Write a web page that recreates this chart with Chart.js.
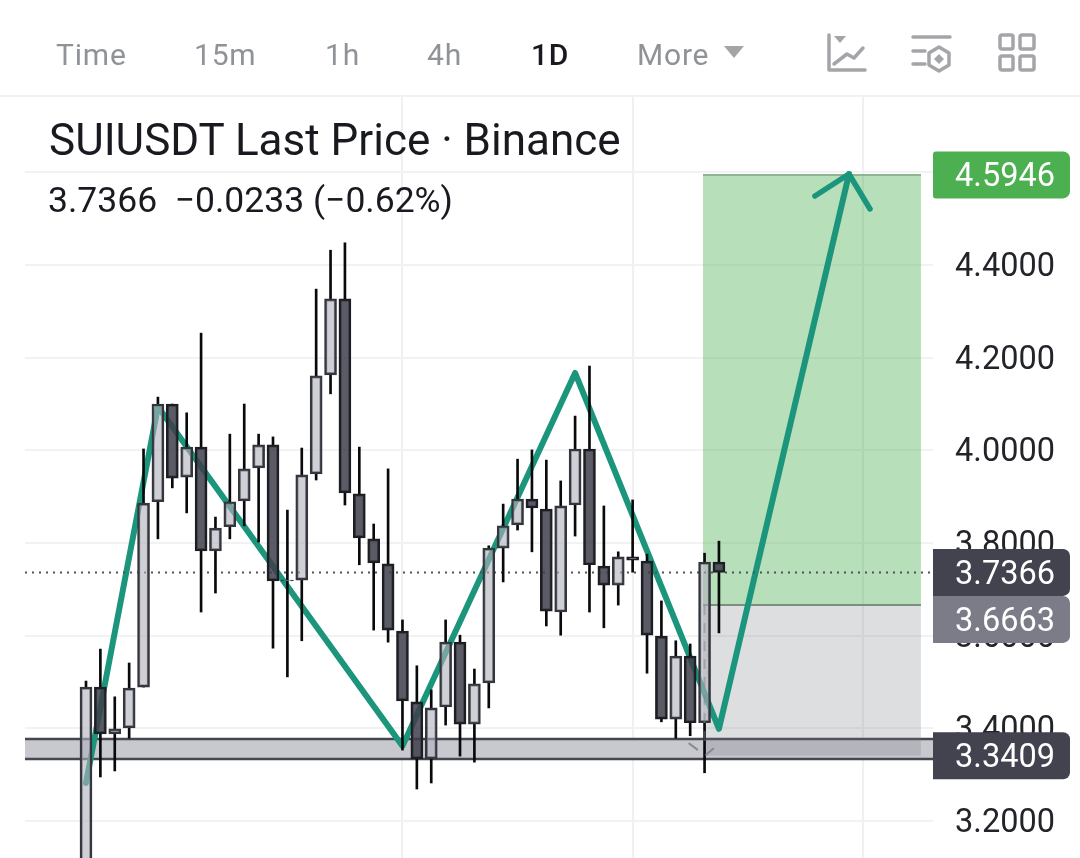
<!DOCTYPE html>
<html>
<head>
<meta charset="utf-8">
<title>SUIUSDT</title>
<script src="https://cdn.jsdelivr.net/npm/chart.js@4"></script>
<style>
    html, body { margin: 0; padding: 0; background: #fff; overflow: hidden; }
    #wrap { position: relative; width: 1080px; height: 858px; font-family: Roboto, sans-serif; }
    #data-chart { position: absolute; left: 0; top: 0; }
    .tab { position: absolute; top: 37px; font-size: 30px; line-height: 36px; color: #8f9296; letter-spacing: 0.8px; }
    .tab.on { color: #181a20; font-weight: 500; }
    #bar-line { position: absolute; left: 0; top: 95px; width: 1080px; height: 2px; background: #f2f2f3; }
    #title { position: absolute; left: 49px; top: 115px; font-size: 44px; line-height: 50px; color: #181a20; white-space: nowrap; }
    #quote { position: absolute; left: 48px; top: 180px; font-size: 35.5px; line-height: 40px; color: #181a20; white-space: pre; }
    svg.icon { position: absolute; fill: none; stroke: #a3a5a8; stroke-width: 3.5; stroke-linecap: round; stroke-linejoin: round; }
</style>
</head>
<body>
<div id="wrap">
    <canvas id="data-chart" width="1080" height="858"></canvas>
    <div class="tab" style="left:56px">Time</div>
    <div class="tab" style="left:194px">15m</div>
    <div class="tab" style="left:325px">1h</div>
    <div class="tab" style="left:427px">4h</div>
    <div class="tab on" style="left:531px">1D</div>
    <div class="tab" style="left:637px">More</div>
    <svg class="icon" style="left:722px;top:44px" width="24" height="16"><path d="M2 2h20L12 14z" fill="#a3a5a8" stroke="none"/></svg>
    <svg class="icon" style="left:826px;top:32px" width="42" height="42"><path d="M3 3V38H39M8 32L21 22L28 26L37 16"/><path d="M8 4h12L14 11z" fill="#a3a5a8" stroke="none"/></svg>
    <svg class="icon" style="left:910px;top:32px" width="44" height="42"><path d="M3 5H40M3 19H15M3 32H15M29 15L39 21V33L29 39L19 33V21z"/><path d="M29 22L34 27L29 32L24 27z" fill="#a3a5a8" stroke="none"/></svg>
    <svg class="icon" style="left:998px;top:33px" width="40" height="40"><rect x="2" y="2" width="13" height="14" rx="2"/><rect x="22" y="2" width="14" height="14" rx="2"/><rect x="2" y="23" width="13" height="14" rx="2"/><rect x="22" y="23" width="14" height="14" rx="2"/></svg>
    <div id="bar-line"></div>
    <div id="title">SUIUSDT Last Price · Binance</div>
    <div id="quote">3.7366  −0.0233 (−0.62%)</div>
</div>
<script>
// daily candles
var opens = [3.02, 3.489, 3.388, 3.401, 3.489, 3.889, 4.100, 3.942, 4.007, 3.783, 3.835, 3.891, 3.962, 4.012, 3.718, 3.720, 3.949, 4.163, 4.327, 3.906, 3.809, 3.755, 3.610, 3.457, 3.334, 3.446, 3.586, 3.409, 3.498, 3.789, 3.839, 3.895, 3.873, 3.651, 3.882, 4.003, 3.750, 3.709, 3.770, 3.761, 3.599, 3.420, 3.556, 3.412, 3.759];
var closes = [3.489, 3.388, 3.399, 3.487, 3.886, 4.100, 3.940, 4.007, 3.783, 3.832, 3.889, 3.960, 4.012, 3.718, 3.720, 3.947, 4.161, 4.327, 3.908, 3.811, 3.757, 3.612, 3.459, 3.334, 3.444, 3.586, 3.409, 3.496, 3.789, 3.837, 3.895, 3.876, 3.653, 3.880, 4.003, 3.753, 3.709, 3.770, 3.763, 3.601, 3.420, 3.556, 3.412, 3.759, 3.7366];
var highs = [3.502, 3.571, 3.468, 3.541, 4.003, 4.115, 4.100, 4.081, 4.253, 3.856, 4.035, 4.100, 4.035, 4.029, 3.871, 4.005, 4.348, 4.432, 4.448, 4.007, 3.841, 3.960, 3.634, 3.535, 3.483, 3.634, 3.601, 3.528, 3.794, 3.884, 3.981, 4.001, 3.979, 3.934, 4.074, 4.182, 3.880, 3.781, 3.893, 3.776, 3.675, 3.589, 3.582, 3.778, 3.804];
var lows = [2.98, 3.295, 3.308, 3.379, 3.489, 3.809, 3.919, 3.865, 3.651, 3.692, 3.809, 3.837, 3.802, 3.573, 3.511, 3.589, 3.936, 4.122, 3.882, 3.753, 3.612, 3.586, 3.353, 3.269, 3.282, 3.407, 3.340, 3.327, 3.444, 3.716, 3.828, 3.781, 3.621, 3.601, 3.815, 3.651, 3.617, 3.666, 3.737, 3.519, 3.414, 3.379, 3.384, 3.304, 3.606];

// price scale and grid
var yTickValues = [3.2, 3.4, 3.6, 3.8, 4.0, 4.2, 4.4, 4.6];
var xTickValues = [22, 38, 54];
var xRange = [-4.24, 58.88];
var yRange = [3.1201, 4.7627];

// drawn pattern and arrow head
var zigzagX = [0, 5, 22, 34, 44, 53.04];
var zigzagY = [3.282, 4.094, 3.362, 4.167, 3.399, 4.5965];
var arrowX = [50.67, 53.04, 54.5];
var arrowY = [4.549, 4.5965, 4.521];

// position tool and support band
var lastPrice = 3.7366;
var targetPrice = 4.5946;
var entryPrice = 3.6663;
var stopPrice = 3.3409;
var toolX = [42.89, 58.04];
var bandPrices = [3.3338, 3.377];
var toolDashX = [43, 43];
var toolDashY = [3.6663, 3.36];
var markLeftX = [41.94, 42.5];
var markLeftY = [3.367, 3.354];
var markRightX = [43.1, 43.6];
var markRightY = [3.343, 3.356];

var tagPrices = [targetPrice, lastPrice, entryPrice, stopPrice];
var tagColors = ["#4caf50", "#42434e", "#7b7c87", "#42434e"];
var tickFont = { family: "Roboto", size: 32.5 };

function zipPoints(xs, ys) {
    return xs.map(function (x, i) {
        return { x: x, y: ys[i] };
    });
}

function flatLine(xs, price, color, width, fillTo, fillColor, order, dash) {
    return {
        type: "line",
        data: xs.map(function (x) { return { x: x, y: price }; }),
        borderColor: color,
        borderWidth: width,
        borderDash: dash || [],
        pointRadius: 0,
        fill: fillTo === null ? false : { value: fillTo },
        backgroundColor: fillColor,
        order: order
    };
}

function pathLine(xs, ys, color, width, order, dash) {
    return {
        type: "line",
        data: zipPoints(xs, ys),
        borderColor: color,
        borderWidth: width,
        borderCapStyle: dash ? "butt" : "round",
        borderJoinStyle: "round",
        borderDash: dash || [],
        pointRadius: 0,
        tension: 0,
        fill: false,
        order: order
    };
}

var candleIndex = opens.map(function (v, i) { return i; });

function wickSet(fromEnd) {
    return {
        type: "bar",
        grouped: false,
        barThickness: 2,
        backgroundColor: "#08090b",
        data: candleIndex.map(function (i) { return { x: i, y: fromEnd(i) }; }),
        order: 6
    };
}

// wicks stop at the body, the bodies are see-through
var upperWicks = wickSet(function (i) { return [Math.max(opens[i], closes[i]), highs[i]]; });
var lowerWicks = wickSet(function (i) { return [lows[i], Math.min(opens[i], closes[i])]; });

var bodySet = {
    type: "bar",
    grouped: false,
    barThickness: 12,
    borderWidth: 2.3,
    borderSkipped: false,
    backgroundColor: candleIndex.map(function (i) {
        return closes[i] >= opens[i] ? "rgba(175,177,187,0.6)" : "rgba(61,62,74,0.85)";
    }),
    borderColor: candleIndex.map(function (i) {
        return closes[i] >= opens[i] ? "#34353d" : "#1d1e23";
    }),
    data: candleIndex.map(function (i) { return { x: i, y: [opens[i], closes[i]] }; }),
    order: 5
};

var priceTags = {
    id: "priceTags",
    afterDraw: function (chart) {
        var ctx = chart.ctx;
        var yScale = chart.scales.y;
        var tagH = 47;
        var prevMid = -100;
        ctx.save();
        ctx.font = "32.5px Roboto";
        ctx.textAlign = "right";
        ctx.textBaseline = "middle";
        tagPrices.forEach(function (price, i) {
            var mid = Math.max(yScale.getPixelForValue(price), prevMid + tagH);
            prevMid = mid;
            ctx.fillStyle = tagColors[i];
            ctx.beginPath();
            ctx.roundRect(chart.chartArea.right, mid - tagH / 2, 137, tagH, [i === 0 ? 3 : 0, 7, 7, i === 0 ? 3 : 0]);
            ctx.fill();
            ctx.fillStyle = "#fff";
            ctx.fillText(price.toFixed(4), 1055, mid + 3);
        });
        ctx.restore();
    }
};

var ctx = document.getElementById("data-chart").getContext("2d");

new Chart(ctx, {
    data: {
        datasets: [
            flatLine(xRange, bandPrices[1], "#45464f", 2.5, bandPrices[0], "#c8c9cf", 12),
            flatLine(xRange, bandPrices[0], "#45464f", 2.5, null, undefined, 11),
            flatLine(toolX, targetPrice, "#8db58f", 2, entryPrice, "rgba(76,175,80,0.4)", 10),
            flatLine(toolX, entryPrice, "#7f8d80", 2, stopPrice, "rgba(120,122,130,0.25)", 9),
            pathLine(zigzagX, zigzagY, "#1b957c", 6, 8),
            pathLine(arrowX, arrowY, "#1b957c", 5.5, 8),
            flatLine(xRange, lastPrice, "#50515a", 2, null, undefined, 7, [2, 5]),
            upperWicks,
            lowerWicks,
            bodySet,
            pathLine(toolDashX, toolDashY, "rgba(130,131,140,0.5)", 2, 4, [10, 8]),
            pathLine(markLeftX, markLeftY, "rgba(130,131,140,0.9)", 2, 4),
            pathLine(markRightX, markRightY, "rgba(130,131,140,0.9)", 2, 4)
        ]
    },
    options: {
        responsive: false,
        animation: false,
        layout: { padding: { left: 25, right: 25, top: 97, bottom: 0 } },
        plugins: { legend: { display: false }, tooltip: { enabled: false } },
        scales: {
            x: {
                type: "linear",
                min: xRange[0],
                max: xRange[1],
                offset: false,
                afterBuildTicks: function (axis) {
                    axis.ticks = xTickValues.map(function (v) { return { value: v }; });
                },
                afterFit: function (axis) {
                    axis.height = 0;
                    axis.paddingLeft = 0;
                    axis.paddingRight = 0;
                },
                ticks: { display: false },
                border: { display: false },
                grid: { color: "#eff0f1", lineWidth: 2, drawTicks: false, offset: false }
            },
            y: {
                position: "right",
                min: yRange[0],
                max: yRange[1],
                afterBuildTicks: function (axis) {
                    axis.ticks = yTickValues.map(function (v) { return { value: v }; });
                },
                afterFit: function (axis) {
                    axis.width = 122;
                    axis.paddingTop = 0;
                    axis.paddingBottom = 0;
                },
                ticks: {
                    font: tickFont,
                    color: "#22242a",
                    padding: 0,
                    labelOffset: 3,
                    crossAlign: "far",
                    callback: function (v) { return Number(v).toFixed(4); }
                },
                border: { display: false },
                grid: { color: "#f1f2f3", lineWidth: 2, drawTicks: false }
            }
        }
    },
    plugins: [priceTags]
});
</script>
</body>
</html>
